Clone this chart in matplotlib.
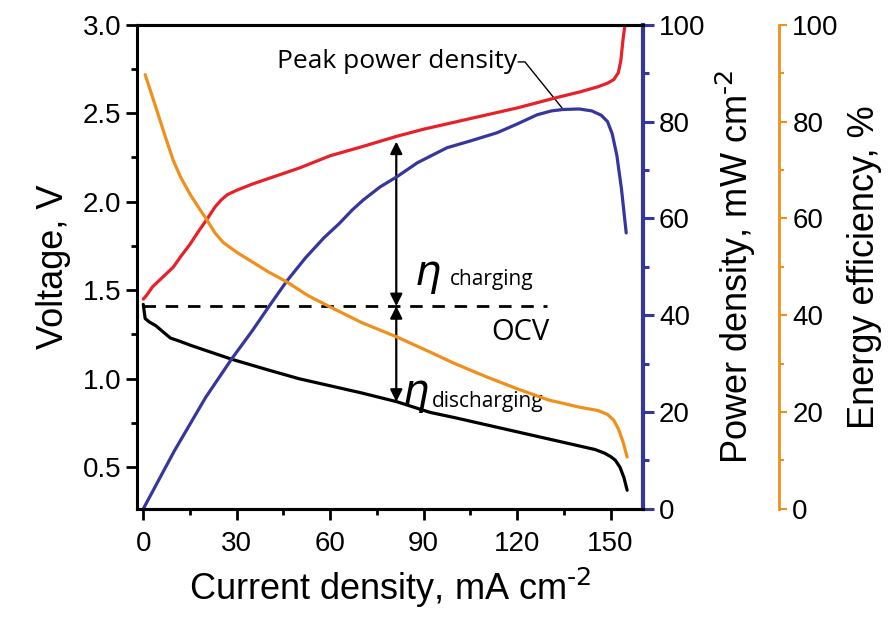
import numpy as np
import matplotlib
matplotlib.use("Agg")
import matplotlib.pyplot as plt
from matplotlib.ticker import MultipleLocator

plt.rcParams.update({
    "font.family": ["Liberation Sans", "DejaVu Sans"],
    "font.size": 20,
    "axes.linewidth": 2.2,
    "lines.solid_joinstyle": "round",
    "lines.solid_capstyle": "round",
})

# ---- data ----
# charging voltage (V)
i_chg = [0, 1, 3, 6, 9.6, 12, 15, 18, 20.4, 23, 25, 27, 30, 35, 40, 50, 60,
         70, 81.4, 90, 100, 110, 120, 133, 140, 146, 149, 151, 152.5, 153.3,
         154, 154.6]
v_chg = [1.45, 1.47, 1.52, 1.57, 1.63, 1.69, 1.76, 1.84, 1.90, 1.97, 2.01,
         2.04, 2.065, 2.10, 2.13, 2.19, 2.26, 2.31, 2.37, 2.41, 2.45, 2.49,
         2.53, 2.59, 2.62, 2.65, 2.67, 2.69, 2.73, 2.80, 2.92, 3.0]

# discharging voltage (V)
i_dis = [0, 0.3, 0.6, 2, 4, 6, 8.7, 12, 15, 20, 28.4, 40, 50, 60, 70, 81.4,
         92, 100, 110, 120, 130, 140, 145, 148, 150, 151.5, 153, 154.3, 155.3]
v_dis = [1.42, 1.38, 1.34, 1.32, 1.30, 1.27, 1.23, 1.21, 1.19, 1.16, 1.11,
         1.05, 1.00, 0.96, 0.92, 0.87, 0.81, 0.78, 0.74, 0.70, 0.66, 0.62,
         0.60, 0.58, 0.56, 0.54, 0.50, 0.44, 0.37]

# power density (mW cm-2)
i_pow = [0, 5, 10, 15, 20, 28.4, 35, 40, 46, 52, 58, 63, 67, 70.6, 76, 81.4,
         88, 97.5, 105, 113.6, 120, 126.4, 131, 134.7, 140, 144, 147, 149,
         150.5, 152, 153.5, 155]
p_pow = [0, 6, 12, 17.5, 23, 31, 36.8, 41.5, 47, 51.8, 56, 59, 61.7, 63.8,
         66.5, 68.6, 71.5, 74.6, 76, 77.7, 79.5, 81.4, 82.2, 82.5, 82.6, 82.2,
         81.3, 80, 77.5, 73, 66, 57]

# energy efficiency (%)
i_eff = [0.6, 3, 5, 7, 9.6, 12, 15, 18, 20.4, 23, 25.7, 30, 35, 40, 46, 53,
         60, 70, 81.4, 92, 100, 110, 120, 130, 140, 146, 149, 151, 152.5, 154,
         155.3]
e_eff = [89.7, 85, 81, 77, 72, 68.5, 65, 62, 59.7, 57, 55, 53, 51, 49, 46.9,
         44, 41.7, 38.5, 35.5, 32.4, 30, 27.3, 24.8, 22.5, 21, 20.3, 19.5, 18.3,
         16.5, 13.8, 10.7]

ocv = 1.41
ocv_end = 129.6
arrow_i = 81.2
peak_i, peak_v = 134.4, 2.53

RED = "#e8202a"
BLUE = "#36369c"
ORANGE = "#f0901c"

fig = plt.figure(figsize=(8.9, 6.19), dpi=100)
ax = fig.add_axes([0.154, 0.178, 0.5685, 0.782])
ax2 = ax.twinx()
ax3 = ax.twinx()

ax.plot(i_chg, v_chg, color=RED, lw=2.3, zorder=3)
ax.plot(i_dis, v_dis, color="black", lw=2.3, zorder=3)
ax2.plot(i_pow, p_pow, color=BLUE, lw=2.3)
ax3.plot(i_eff, e_eff, color=ORANGE, lw=2.3)

ax.plot([0, ocv_end], [ocv, ocv], color="black", lw=2, ls=(0, (4.5, 3.5)))

# overpotential arrows
arr = dict(arrowstyle="<|-|>", color="black", lw=1.6, mutation_scale=18,
           shrinkA=0, shrinkB=0)
ax.annotate("", xy=(arrow_i, 2.34), xytext=(arrow_i, ocv), arrowprops=arr)
ax.annotate("", xy=(arrow_i, 0.87), xytext=(arrow_i, ocv), arrowprops=arr)

ann = ["Open Sans", "DejaVu Sans"]
ax.text(87, 1.53, r"$\eta$", fontsize=30, ha="left", va="baseline")
ax.text(98.5, 1.53, "charging", fontsize=15, family=ann, ha="left", va="baseline")
ax.text(83, 0.86, r"$\eta$", fontsize=30, ha="left", va="baseline")
ax.text(92.7, 0.84, "discharging", fontsize=15, family=ann, ha="left", va="baseline")
ax.text(121, 1.26, "OCV", fontsize=21, family=ann, ha="center", va="center")
ax.text(120, 2.79, "Peak power density", fontsize=19, family=ann,
        ha="right", va="center")
ax.plot([120.3, 122.5, peak_i], [2.79, 2.79, peak_v], color="black", lw=1.0)

# axes setup
ax.set_xlim(-2, 160.4)
ax.set_ylim(0.265, 3.0)
ax2.set_ylim(0, 100)
ax3.set_ylim(0, 100)

ax.xaxis.set_major_locator(MultipleLocator(30))
ax.xaxis.set_minor_locator(MultipleLocator(15))
ax.yaxis.set_major_locator(MultipleLocator(0.5))
ax.yaxis.set_minor_locator(MultipleLocator(0.25))
ax.set_yticks([0.5, 1.0, 1.5, 2.0, 2.5, 3.0])
for a in (ax2, ax3):
    a.yaxis.set_major_locator(MultipleLocator(20))
    a.yaxis.set_minor_locator(MultipleLocator(10))

ax.tick_params(which="major", direction="out", length=8, width=2, labelsize=20)
ax.tick_params(which="minor", direction="out", length=4.5, width=2)
ax.tick_params(axis="x", pad=8)
ax.spines["right"].set_visible(False)

ax2.spines["right"].set_color(BLUE)
ax2.spines["right"].set_linewidth(3)
ax2.spines["left"].set_visible(False)
ax2.tick_params(which="major", direction="out", length=8, width=2.2,
                color=BLUE, labelsize=20)
ax2.tick_params(which="minor", direction="out", length=4.5, width=2.2, color=BLUE)

ax3.spines["right"].set_position(("axes", 1.269))
ax3.spines["right"].set_color(ORANGE)
ax3.spines["right"].set_linewidth(2)
for s in ("left", "top", "bottom"):
    ax3.spines[s].set_visible(False)
ax3.tick_params(which="major", direction="out", length=6, width=1.5,
                color=ORANGE, labelsize=20)
ax3.tick_params(which="minor", direction="out", length=3.5, width=1.5,
                color=ORANGE)

ax.set_xlabel(r"Current density, mA cm$^{\text{-2}}$", fontsize=26, labelpad=6)
ax.set_ylabel("Voltage, V", fontsize=26, labelpad=8)
ax2.set_ylabel(r"Power density, mW cm$^{\text{-2}}$", fontsize=26, labelpad=6)
ax3.set_ylabel("Energy efficiency, %", fontsize=26, labelpad=6)

fig.savefig("out.png", dpi=100)
